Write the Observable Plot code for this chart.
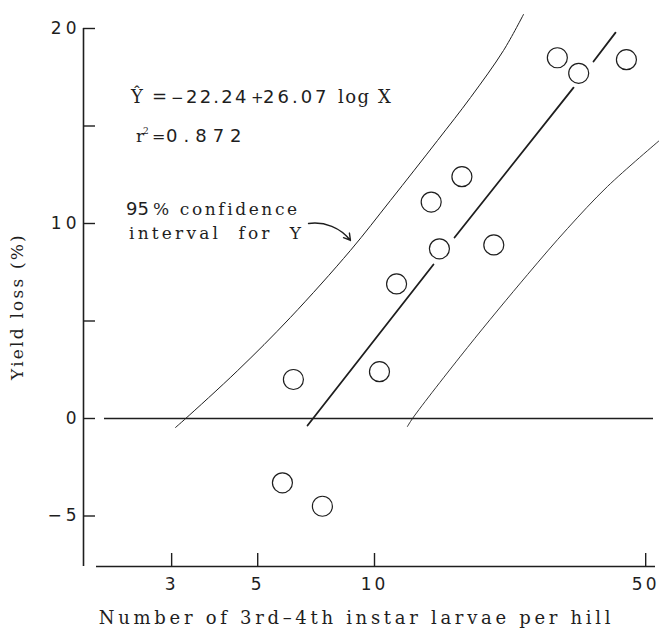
<!DOCTYPE html>
<html><head><meta charset="utf-8">
<script src="https://cdn.jsdelivr.net/npm/d3@7"></script>
<script src="https://cdn.jsdelivr.net/npm/@observablehq/plot@0.6"></script>
<style>
html,body{margin:0;padding:0;background:#fff;}
#chart svg{display:block;}
g[aria-label="y-axis tick label"] text{letter-spacing:4px;}
g[aria-label="x-axis tick label"] text{letter-spacing:3px;}
.axt{letter-spacing:3.7px;}
.ayt{letter-spacing:2.2px;}
</style></head><body><div id="chart"></div>
<script>
// Observed points: larvae per hill vs yield loss (%)
const larvae    = [5.79, 6.18, 7.34, 10.3, 11.4, 14.0, 14.7, 16.8, 20.3, 29.6, 33.6, 44.6];
const yieldLoss = [-3.3, 2.0, -4.5, 2.4, 6.9, 11.1, 8.7, 12.4, 8.9, 18.5, 17.7, 18.4];

// Regression line (drawn with gaps round the circles)
const regX   = [6.72, 14.19, 16.08, 32.58, 36.68, 41.8];
const regY   = [-0.36, 7.90, 9.28, 16.97, 18.31, 19.79];
const regSeg = [1, 1, 2, 2, 3, 3];

// 95% confidence band
const upperX = [3.07, 3.24, 4.44, 6.07, 8.67, 10.99, 14.54, 17.68, 21.5, 24.21];
const upperY = [-0.46, -0.05, 2.46, 5.18, 8.62, 11.18, 14.26, 16.46, 18.87, 20.72];
const lowerX = [12.16, 12.53, 17.36, 24.8, 31.43, 39.86, 54.27];
const lowerY = [-0.41, 0.0, 3.64, 7.38, 9.74, 11.9, 14.26];

// Axis ticks
const xTicks = [3, 5, 10, 50];
const yTicks = [-5, 0, 5, 10, 15, 20];
const yTickLabels = [-5, 0, 10, 20];

const xLabel = "Number of 3rd\u20134th instar larvae per hill";
const yLabel = "Yield loss (%)";

const xDomain = [1.778, 53];
const yDomain = [-7.59, 20];

const pts = larvae.map((x, i) => ({x, y: yieldLoss[i]}));
const reg = regX.map((x, i) => ({x, y: regY[i], s: regSeg[i]}));
const upper = upperX.map((x, i) => ({x, y: upperY[i]}));
const lower = lowerX.map((x, i) => ({x, y: lowerY[i]}));

const ink = "#1e1e1e";
const plot = Plot.plot({
  width: 659, height: 630,
  marginLeft: 83, marginRight: 4, marginTop: 28, marginBottom: 64,
  x: {type: "log", domain: xDomain},
  y: {domain: yDomain},
  style: {background: "#fff", color: ink},
  marks: [
    Plot.ruleX([xDomain[0]], {stroke: ink, strokeWidth: 1.6}),
    Plot.ruleY([yDomain[0]], {stroke: ink, strokeWidth: 1.6, insetLeft: 13}),
    Plot.ruleY(yTicks, {stroke: ink, strokeWidth: 1.4, insetRight: 560}),
    Plot.ruleX(xTicks, {stroke: ink, strokeWidth: 1.4, insetTop: 525}),
    Plot.ruleY([0], {stroke: ink, strokeWidth: 1.6, insetLeft: 21, insetRight: 2}),
    Plot.axisY({ticks: yTickLabels, tickSize: 0, tickPadding: 3, fontFamily: "DejaVu Sans", fontSize: 17, label: null}),
    Plot.axisX({ticks: xTicks, tickSize: 0, tickPadding: 11, fontFamily: "DejaVu Sans", fontSize: 17, label: null, tickFormat: d => String(d)}),
    Plot.line(upper, {x: "x", y: "y", curve: "catmull-rom", stroke: ink, strokeWidth: 1}),
    Plot.line(lower, {x: "x", y: "y", curve: "catmull-rom", stroke: ink, strokeWidth: 0.9}),
    Plot.line(reg, {x: "x", y: "y", z: "s", stroke: ink, strokeWidth: 1.8}),
    Plot.dot(pts, {x: "x", y: "y", r: 10, stroke: ink, strokeWidth: 1.2, fill: "none"}),
    Plot.arrow([{x1: 6.76, y1: 10.0, x2: 8.67, y2: 9.13}], {x1: "x1", y1: "y1", x2: "x2", y2: "y2", bend: 30, stroke: ink, strokeWidth: 1.4, headLength: 8}),
    Plot.text([xLabel], {frameAnchor: "bottom", textAnchor: "middle", dx: -13, dy: 57, fontFamily: "DejaVu Serif", fontSize: 18, fill: ink, className: "axt"}),
    Plot.text([yLabel], {frameAnchor: "left", textAnchor: "middle", dx: -66, dy: 9, rotate: -90, fontFamily: "DejaVu Serif", fontSize: 17, fill: ink, className: "ayt"})
  ]
});
document.getElementById("chart").appendChild(plot);

// Annotation text (equation, r², band note), each piece placed by its own left edge
const svg = d3.select(plot);
const ann = svg.append("g").attr("fill", ink).attr("text-anchor", "start");
const SANS = "DejaVu Sans", SERIF = "DejaVu Serif";
function line(y, parts) {
  const t = ann.append("text").attr("y", y).attr("text-anchor", "start");
  for (const [s, x, fam, size, ls, dy] of parts) {
    t.append("tspan").text(s).attr("x", x).attr("y", y + (dy || 0))
      .attr("font-family", fam).attr("font-size", size).style("letter-spacing", ls + "px");
  }
}
line(103, [["\u0176", 131, SERIF, 18, 0], ["=", 152, SERIF, 18, 0], ["\u2212", 171, SANS, 15, 0],
           ["22.24", 186, SANS, 18, 2.2], ["+", 251, SANS, 15, 0], ["26.07", 263, SANS, 18, 3]],);
line(103, [["log", 338, SERIF, 18, 1.5], ["X", 378, SERIF, 18, 0]]);
line(142, [["r", 136, SERIF, 17, 0], ["2", 143, SERIF, 9, 0, -8]]);
line(142, [["=", 152, SERIF, 16, 0], ["0.872", 166, SANS, 18, 6]]);
line(215, [["95", 126, SANS, 18, 0]]);
line(215, [["% confidence", 153, SERIF, 17, 2.6]]);
line(239, [["interval  for  Y", 129, SERIF, 17, 3.2]]);
</script></body></html>
